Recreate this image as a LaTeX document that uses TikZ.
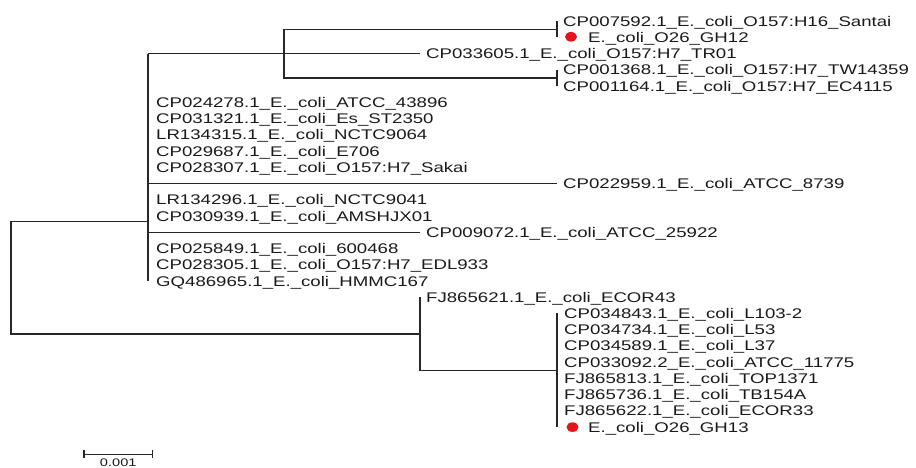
\documentclass[tikz,border=0pt]{standalone}
\usepackage{fontspec}
\setmainfont{Liberation Sans}[FakeStretch=1.33]
\usetikzlibrary{shapes.geometric}
\definecolor{txt}{HTML}{1A1A1A}
\definecolor{ln}{HTML}{262626}
\definecolor{dotred}{HTML}{E5141A}
\begin{document}
\begin{tikzpicture}[x=1pt,y=-1pt,
  br/.style={draw=ln,line width=1.25pt},
  lbl/.style={anchor=base west,inner sep=0pt,text=txt,font=\fontsize{14}{16}\selectfont},
  reddot/.style={ellipse,fill=dotred,draw=none,minimum width=12pt,minimum height=9.6pt,inner sep=0pt}]
\useasboundingbox (0,0) rectangle (916,468);
\fill[white] (0,0) rectangle (916,468);

% ---- internal nodes ----
\coordinate (root) at (11,277.9);
\coordinate (A) at (148,221.7);
\coordinate (Atop) at (148,53.8);
\coordinate (Abot) at (148,281.0);
\coordinate (S) at (284,53.8);
\coordinate (S1) at (557,29.4);
\coordinate (S2) at (557,78.1);
\coordinate (B) at (420,334.0);
\coordinate (C) at (557,370.3);

% ---- tips ----
\coordinate (t0) at (557,21.3);
\coordinate (t1) at (557,37.5);
\coordinate (t2) at (420,53.8);
\coordinate (t3) at (557,70.0);
\coordinate (t4) at (557,86.2);
\coordinate (t5) at (148,102.5);
\coordinate (t6) at (148,118.7);
\coordinate (t7) at (148,134.9);
\coordinate (t8) at (148,151.1);
\coordinate (t9) at (148,167.4);
\coordinate (a10) at (148,183.6);
\coordinate (t10) at (557,183.6);
\coordinate (t11) at (148,199.8);
\coordinate (t12) at (148,216.1);
\coordinate (a13) at (148,232.3);
\coordinate (t13) at (420,232.3);
\coordinate (t14) at (148,248.5);
\coordinate (t15) at (148,264.8);
\coordinate (t16) at (148,281.0);
\coordinate (t17) at (420,297.2);
\coordinate (t18) at (557,313.4);
\coordinate (t19) at (557,329.7);
\coordinate (t20) at (557,345.9);
\coordinate (t21) at (557,362.1);
\coordinate (t22) at (557,378.4);
\coordinate (t23) at (557,394.6);
\coordinate (t24) at (557,410.8);
\coordinate (t25) at (557,427.1);

% ---- branches ----
\draw[br] (A) -| (root) |- (B);
\draw[br] (Atop) -- (Abot);
\draw[br] (Atop) -- (S);
\draw[br] (S) -- (t2);
\draw[br] (S1) -| (S) |- (S2);
\draw[br] (t0) -- (t1);
\draw[br] (t3) -- (t4);
\draw[br] (a10) -- (t10);
\draw[br] (a13) -- (t13);
\draw[br] (t17) |- (C);
\draw[br] (B) -- (t17);
\draw[br] (t18) -- (t25);

% ---- labels ----
\path (t0) ++(6,5) node[lbl] (l0) {CP007592.1\_E.\_coli\_O157:H16\_Santai};
\node[reddot] (d1) at (571,36.8) {};
\path (t1) ++(31,5) node[lbl] (l1) {E.\_coli\_O26\_GH12};
\path (t2) ++(6,5) node[lbl] (l2) {CP033605.1\_E.\_coli\_O157:H7\_TR01};
\path (t3) ++(6,5) node[lbl] (l3) {CP001368.1\_E.\_coli\_O157:H7\_TW14359};
\path (t4) ++(6,5) node[lbl] (l4) {CP001164.1\_E.\_coli\_O157:H7\_EC4115};
\path (t5) ++(8,5) node[lbl] (l5) {CP024278.1\_E.\_coli\_ATCC\_43896};
\path (t6) ++(8,5) node[lbl] (l6) {CP031321.1\_E.\_coli\_Es\_ST2350};
\path (t7) ++(8,5) node[lbl] (l7) {LR134315.1\_E.\_coli\_NCTC9064};
\path (t8) ++(8,5) node[lbl] (l8) {CP029687.1\_E.\_coli\_E706};
\path (t9) ++(8,5) node[lbl] (l9) {CP028307.1\_E.\_coli\_O157:H7\_Sakai};
\path (t10) ++(6,5) node[lbl] (l10) {CP022959.1\_E.\_coli\_ATCC\_8739};
\path (t11) ++(8,5) node[lbl] (l11) {LR134296.1\_E.\_coli\_NCTC9041};
\path (t12) ++(8,5) node[lbl] (l12) {CP030939.1\_E.\_coli\_AMSHJX01};
\path (t13) ++(6,5) node[lbl] (l13) {CP009072.1\_E.\_coli\_ATCC\_25922};
\path (t14) ++(8,5) node[lbl] (l14) {CP025849.1\_E.\_coli\_600468};
\path (t15) ++(8,5) node[lbl] (l15) {CP028305.1\_E.\_coli\_O157:H7\_EDL933};
\path (t16) ++(8,5) node[lbl] (l16) {GQ486965.1\_E.\_coli\_HMMC167};
\path (t17) ++(6,5) node[lbl] (l17) {FJ865621.1\_E.\_coli\_ECOR43};
\path (t18) ++(7,5) node[lbl] (l18) {CP034843.1\_E.\_coli\_L103-2};
\path (t19) ++(7,5) node[lbl] (l19) {CP034734.1\_E.\_coli\_L53};
\path (t20) ++(7,5) node[lbl] (l20) {CP034589.1\_E.\_coli\_L37};
\path (t21) ++(7,5) node[lbl] (l21) {CP033092.2\_E.\_coli\_ATCC\_11775};
\path (t22) ++(7,5) node[lbl] (l22) {FJ865813.1\_E.\_coli\_TOP1371};
\path (t23) ++(7,5) node[lbl] (l23) {FJ865736.1\_E.\_coli\_TB154A};
\path (t24) ++(7,5) node[lbl] (l24) {FJ865622.1\_E.\_coli\_ECOR33};
\node[reddot] (d25) at (572.5,427.1) {};
\path (t25) ++(31,5) node[lbl] (l25) {E.\_coli\_O26\_GH13};

% ---- scale bar ----
\coordinate (sbL) at (84,454.3);
\coordinate (sbR) at (152.7,454.3);
\draw[br] (sbL) -- (sbR);
\draw[br] ([yshift=4pt]sbL) -- ([yshift=-4pt]sbL);
\draw[br] ([yshift=4pt]sbR) -- ([yshift=-4pt]sbR);
\node[anchor=base,inner sep=0pt,text=txt,font=\fontsize{11}{12}\selectfont] (sbt) at (118.3,466.3) {0.001};
\end{tikzpicture}
\end{document}
